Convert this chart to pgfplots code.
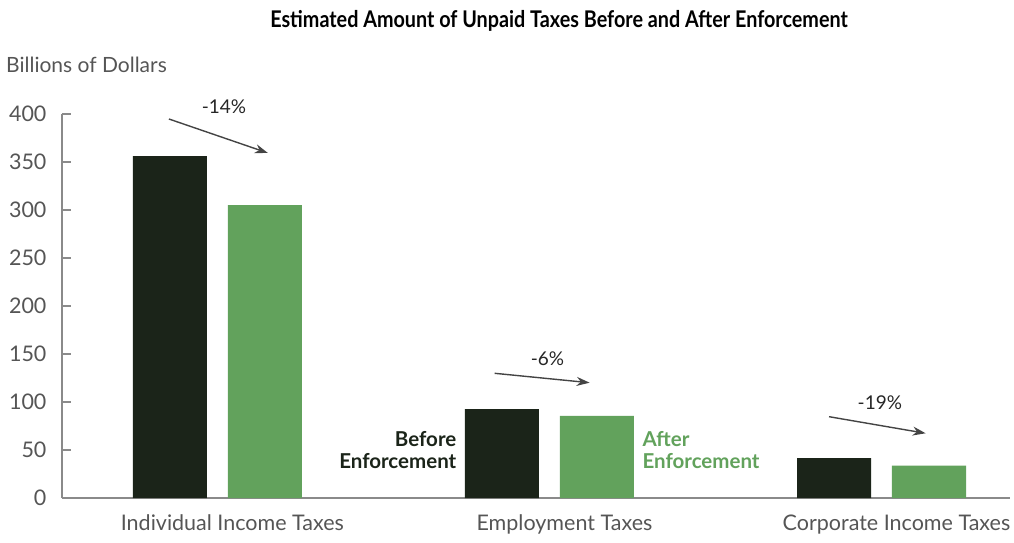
\documentclass[border=0pt]{standalone}
\usepackage{fontspec}
\setmainfont{Lato}
\newfontfamily\titlefont[FakeStretch=0.86]{Lato}
\usepackage{pgfplots}
\pgfplotsset{compat=1.18}
\usetikzlibrary{arrows.meta}
\definecolor{darkbar}{HTML}{1B2419}
\definecolor{greenbar}{HTML}{62A25C}
\definecolor{txtgray}{HTML}{555555}
\definecolor{axgray}{HTML}{8A8A8A}
\definecolor{arrgray}{HTML}{444444}
\begin{document}
\begin{tikzpicture}
\useasboundingbox (0,0) rectangle (1014pt,542pt);
\begin{axis}[
  at={(62pt,44pt)}, anchor=south west,
  scale only axis, width=948pt, height=384pt,
  xmin=-0.468, xmax=2.387, ymin=0, ymax=400,
  axis x line=bottom, axis y line=left,
  axis line style={-, axgray, line width=1.2pt},
  ytick={0,50,...,400},
  xtick={0,1,2},
  xticklabels={Individual Income Taxes, Employment Taxes, Corporate Income Taxes},
  major x tick style={draw=none},
  major y tick style={axgray, line width=1.2pt},
  tick align=inside, major tick length=9pt,
  yticklabel style={font=\fontsize{21.5}{24}\selectfont, text=txtgray, xshift=-12pt},
  xticklabel style={font=\fontsize{21.5}{25}\selectfont, text=txtgray, xshift=15pt, yshift=-13pt},
  /pgf/number format/assume math mode=true,
  clip=false,
]
\addplot[ybar, bar width=0.223, bar shift=-0.143, fill=darkbar, draw=none] coordinates {(0,356) (1,92.5) (2,41.5)};
\addplot[ybar, bar width=0.223, bar shift=0.143, fill=greenbar, draw=none] coordinates {(0,305) (1,85.5) (2,33.8)};
\draw[-{Stealth[length=13pt,width=9pt]}, arrgray, line width=1.4pt] (axis cs:-0.146,394.8) -- (axis cs:0.152,359.4);
\draw[-{Stealth[length=13pt,width=9pt]}, arrgray, line width=1.4pt] (axis cs:0.835,129.9) -- (axis cs:1.121,120.1);
\draw[-{Stealth[length=13pt,width=9pt]}, arrgray, line width=1.4pt] (axis cs:1.842,84.7) -- (axis cs:2.133,67.4);
\node[font=\fontsize{19}{23}\selectfont, text=black!85] at (axis cs:0.02,408) {-14\%};
\node[font=\fontsize{19}{23}\selectfont, text=black!85] at (axis cs:0.994,145.5) {-6\%};
\node[font=\fontsize{19}{23}\selectfont, text=black!85] at (axis cs:1.995,99.3) {-19\%};
\node[anchor=east, align=right, font=\bfseries\fontsize{20.5}{22}\selectfont, text=darkbar, inner sep=0pt] at (axis cs:0.72,50) {Before\\Enforcement};
\node[anchor=west, align=left, font=\bfseries\fontsize{20.5}{22}\selectfont, text=greenbar, inner sep=0pt] at (axis cs:1.28,50) {After\\Enforcement};
\end{axis}
\node[font=\titlefont\bfseries\fontsize{23}{27}\selectfont] at (559pt,521pt) {Estimated Amount of Unpaid Taxes Before and After Enforcement};
\node[anchor=west, inner sep=0pt, font=\fontsize{21}{25}\selectfont, text=txtgray] at (6pt,477pt) {Billions of Dollars};
\end{tikzpicture}
\end{document}
